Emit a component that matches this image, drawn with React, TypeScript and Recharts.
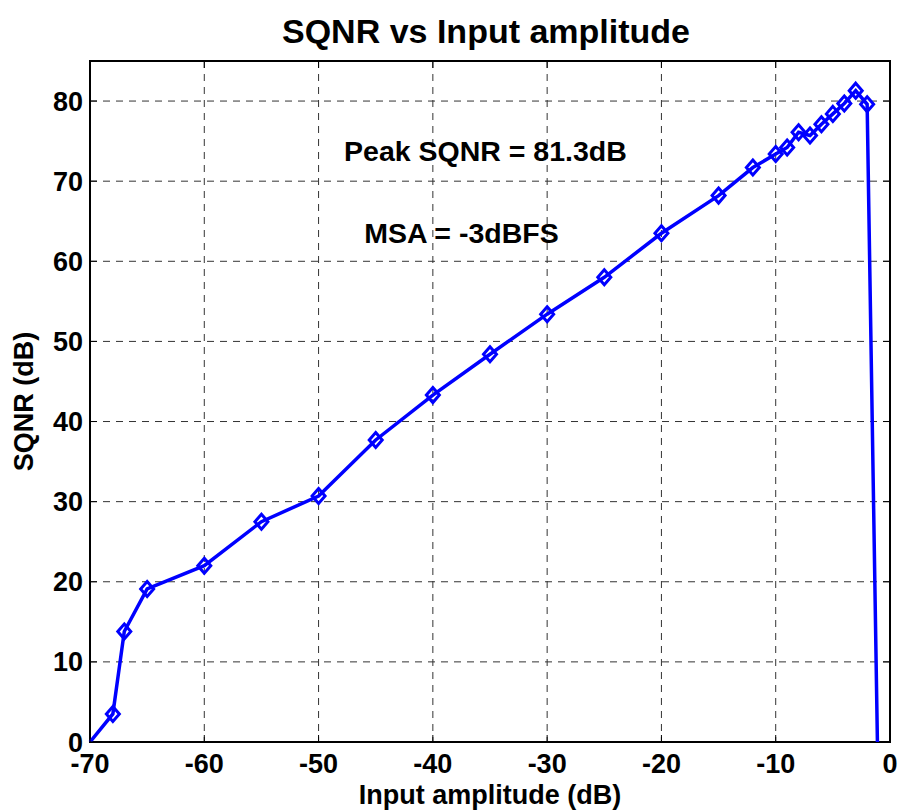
import { LineChart, Line, XAxis, YAxis, CartesianGrid, ReferenceArea, ReferenceDot, Label } from 'recharts';

const inputDb = [-70, -68, -67, -65, -60, -55, -50, -45, -40, -35, -30, -25, -20, -15, -12, -10, -9, -8, -7, -6, -5, -4, -3, -2, -1];
const sqnrDb = [0, 3.5, 13.8, 19.1, 22.0, 27.5, 30.7, 37.7, 43.3, 48.4, 53.4, 58.0, 63.5, 68.2, 71.7, 73.4, 74.2, 76.1, 75.7, 77.1, 78.4, 79.7, 81.3, 79.6, -9];
const xTicks = [-70, -60, -50, -40, -30, -20, -10, 0];
const yTicks = [0, 10, 20, 30, 40, 50, 60, 70, 80];
const peakNote = 'Peak SQNR = 81.3dB';
const msaNote = 'MSA = -3dBFS';

const W = 899;
const H = 812;
const TOP = 61;
const RIGHT = 9;
const LEFT_W = 90;
const BOTTOM_H = 70;
const FONT = '"Liberation Sans", Arial, Helvetica, sans-serif';
const BLUE = '#0000ff';

const data = inputDb.map((x, i) => ({ x, sqnr: sqnrDb[i] }));

// hollow diamond marker, hidden for points on/below the axis
function Diamond(props: any) {
  const { cx, cy, payload, index } = props;
  if (payload.sqnr <= 0 || cx == null || cy == null) return <g key={index} />;
  return (
    <polygon
      key={index}
      points={`${cx},${cy - 7.5} ${cx + 6.5},${cy} ${cx},${cy + 7.5} ${cx - 6.5},${cy}`}
      fill="none"
      stroke={BLUE}
      strokeWidth={3}
    />
  );
}

function XTick(props: any) {
  const { x, y, payload } = props;
  const axisY = y - 12;
  return (
    <g>
      <line x1={x} x2={x} y1={axisY} y2={axisY - 7} stroke="#000" />
      <line x1={x} x2={x} y1={TOP} y2={TOP + 7} stroke="#000" />
      <text x={x} y={y} dy={19} textAnchor="middle" fontFamily={FONT} fontWeight="bold" fontSize={27} fill="#000">
        {payload.value}
      </text>
    </g>
  );
}

function YTick(props: any) {
  const { x, y, payload } = props;
  const axisX = x + 7;
  const rightX = W - RIGHT;
  return (
    <g>
      <line x1={axisX} x2={axisX + 7} y1={y} y2={y} stroke="#000" />
      <line x1={rightX} x2={rightX - 7} y1={y} y2={y} stroke="#000" />
      <text x={x} y={y} dy={9.6} textAnchor="end" fontFamily={FONT} fontWeight="bold" fontSize={27} fill="#000">
        {payload.value}
      </text>
    </g>
  );
}

function YTitle(props: any) {
  const { x, y, height } = props.viewBox;
  const cx = x + 23;
  const cy = y + height / 2;
  return (
    <text
      x={cx}
      y={cy}
      dy={9.6}
      transform={`rotate(-90 ${cx} ${cy})`}
      textAnchor="middle"
      fontFamily={FONT}
      fontWeight="bold"
      fontSize={27}
      fill="#000"
    >
      SQNR (dB)
    </text>
  );
}

export default function App() {
  const noteStyle = { fontFamily: FONT, fontWeight: 'bold', fontSize: 28.5, fill: '#000' };
  return (
    <div style={{ position: 'absolute', left: 0, top: 0, width: W, height: H, background: '#fff' }}>
      <LineChart width={W} height={H} data={data} margin={{ top: TOP, right: RIGHT, bottom: 0, left: 0 }}>
        <text x={LEFT_W + (W - RIGHT - LEFT_W) / 2 - 4} y={43} textAnchor="middle" fontFamily={FONT} fontWeight="bold" fontSize={34} fill="#000">
          SQNR vs Input amplitude
        </text>
        <CartesianGrid stroke="#333" strokeDasharray="7 6" />
        <XAxis
          dataKey="x"
          type="number"
          domain={[-70, 0]}
          ticks={xTicks}
          height={BOTTOM_H}
          axisLine={false}
          tickLine={false}
          tickSize={0}
          tickMargin={12}
          tick={<XTick />}
        >
          <Label value="Input amplitude (dB)" position="insideBottom" offset={8} fontFamily={FONT} fontWeight="bold" fontSize={27} fill="#000" />
        </XAxis>
        <YAxis
          type="number"
          domain={[0, 85]}
          ticks={yTicks}
          allowDataOverflow
          width={LEFT_W}
          axisLine={false}
          tickLine={false}
          tickSize={0}
          tickMargin={7}
          tick={<YTick />}
        >
          <Label content={<YTitle />} />
        </YAxis>
        <Line
          type="linear"
          dataKey="sqnr"
          stroke={BLUE}
          strokeWidth={3.5}
          dot={Diamond}
          activeDot={false}
          isAnimationActive={false}
        />
        <ReferenceArea x1={-70} x2={0} y1={0} y2={85} fill="none" stroke="#000" strokeWidth={2} />
        <ReferenceDot x={-35.4} y={73.8} r={0} stroke="none">
          <Label value={peakNote} position="center" style={noteStyle} />
        </ReferenceDot>
        <ReferenceDot x={-37.5} y={63.5} r={0} stroke="none">
          <Label value={msaNote} position="center" style={noteStyle} />
        </ReferenceDot>
      </LineChart>
    </div>
  );
}
